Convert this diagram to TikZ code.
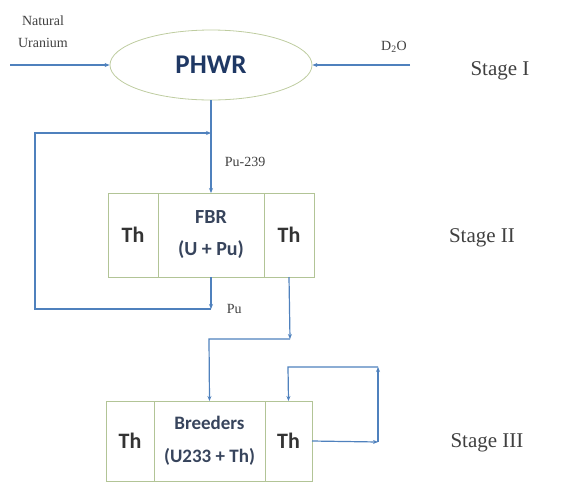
\documentclass[tikz,border=0pt]{standalone}
\usepackage{fontspec}
\setmainfont{Liberation Serif}
\setsansfont{Carlito}
\usepackage{xcolor}
\usetikzlibrary{arrows.meta,positioning,shapes.geometric}

\definecolor{flowblue}{RGB}{79,129,189}
\definecolor{cellgreen}{RGB}{178,196,150}
\definecolor{ovalgreen}{RGB}{190,204,160}
\definecolor{navytext}{RGB}{31,56,100}
\definecolor{slatetext}{RGB}{55,68,92}

\begin{document}
\begin{tikzpicture}[x=1pt, y=-1pt,
  cell/.style={draw=cellgreen, line width=0.8pt, inner sep=0pt, outer sep=0pt,
               minimum height=84pt, align=center, font=\sffamily\bfseries\fontsize{20}{32}\selectfont,
               text=slatetext},
  thcell/.style={cell, text=black!80, font=\sffamily\bfseries\fontsize{22}{26}\selectfont},
  flow/.style={-{Stealth[length=5pt, width=4pt]}, draw=flowblue, line width=1.2pt},
  stage/.style={font=\fontsize{21}{24}\selectfont, text=black!75},
  feed/.style={font=\fontsize{14}{22}\selectfont, text=black!75, align=center}
]
\useasboundingbox (0,0) rectangle (567,483);

% Stage I
\node[ellipse, draw=ovalgreen, line width=0.8pt, minimum width=202pt, minimum height=70pt,
      inner sep=0pt, font=\sffamily\bfseries\fontsize{27}{30}\selectfont, text=navytext]
      (phwr) at (211,65) {PHWR};
\node[feed] (natu) at (43,32) {Natural\\Uranium};
\node[feed] (dtwo) at (394,47) {D\textsubscript{2}O};
\node[stage] (st1) at (500,71) {Stage I};
\coordinate (nuin) at (10,65);
\coordinate (dtin) at (410,65);

% Stage II
\node[thcell, minimum width=50pt] (tha) at (133,235) {Th};
\node[cell, minimum width=106pt, right=0pt of tha] (fbr) {FBR\\(U + Pu)};
\node[thcell, minimum width=50pt, right=0pt of fbr] (thb) {Th};
\node[stage] (st2) at (482,238) {Stage II};

% Stage III
\node[thcell, minimum width=48pt, minimum height=80pt] (thc) at (130,441) {Th};
\node[cell, minimum width=111pt, minimum height=80pt, right=0pt of thc,
      font=\sffamily\bfseries\fontsize{19}{33}\selectfont] (breed) {Breeders\\(U233 + Th)};
\node[thcell, minimum width=47pt, minimum height=80pt, right=0pt of breed] (thd) {Th};
\node[stage] (st3) at (487,443) {Stage III};

% turning points
\coordinate (pubend) at (211,309);
\coordinate (loopbl) at (35,309);
\coordinate (looptl) at (35,133);
\coordinate (join) at (211,133);
\coordinate (thbend) at (290,339);
\coordinate (brturn) at (209,339);
\coordinate (rlbr) at (378,442);
\coordinate (rltr) at (378,367);
\coordinate (rltl) at (288,367);

\draw[flow] (nuin) -- (phwr.west);
\draw[flow] (dtin) -- (phwr.east);
\draw[flow] (phwr.south) -- node[right, feed, pos=0.66, xshift=10pt]{Pu-239} (fbr.north);
\draw[flow] (fbr.south) -- node[right=12pt, feed, pos=1]{Pu} (pubend);
\draw[flow] (pubend) -- (loopbl) -- (looptl) -- (join);
\draw[flow] (thb.south) -- (thbend);
\draw[flow] (thbend) -- (brturn) -- (breed.north);
\draw[flow] (thd.east) -- (rlbr);
\draw[flow] (rlbr) -- (rltr);
\draw[flow] (rltr) -- (rltl) -- (thd.north);
\end{tikzpicture}
\end{document}
